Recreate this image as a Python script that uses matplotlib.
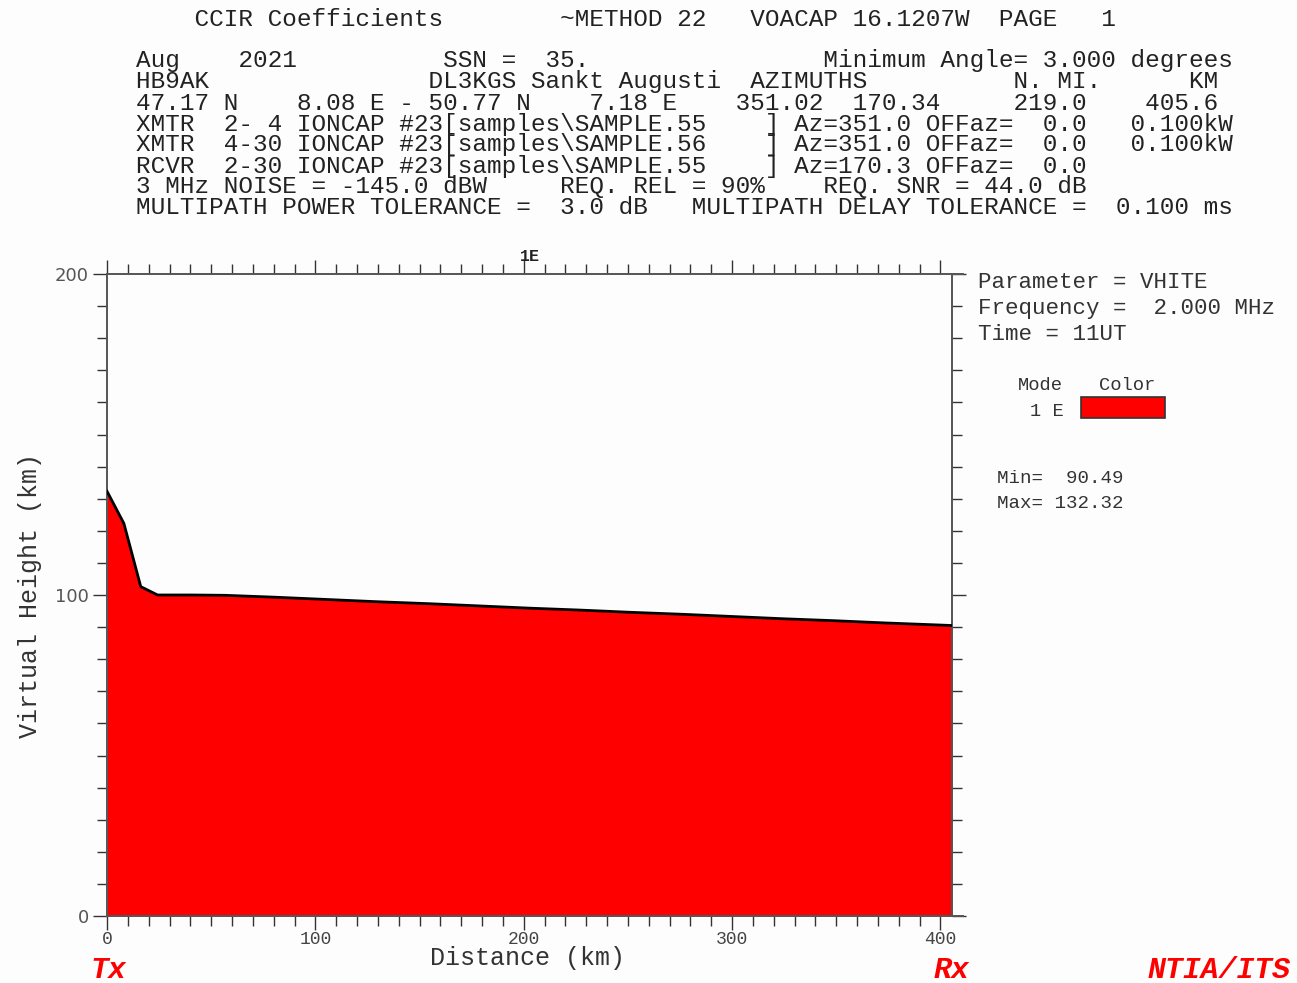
import matplotlib
matplotlib.use("Agg")
import matplotlib.pyplot as plt
from matplotlib.ticker import MultipleLocator

# ---------------- data ----------------
distance_km = [0, 8.1, 16.2, 24.3, 40.6, 56.8, 81.1, 105.5, 129.8, 154.2, 178.5,
               202.8, 227.1, 251.5, 275.8, 300.2, 324.5, 348.8, 373.2, 397.5, 405.6]
virtual_height_km = [132.32, 122.3, 102.6, 100.0, 100.0, 99.9, 99.3, 98.6, 97.9, 97.3,
                     96.6, 95.9, 95.3, 94.6, 94.0, 93.3, 92.6, 92.0, 91.3, 90.7, 90.49]
x_ticks = [0, 100, 200, 300, 400]
y_ticks = [0, 100, 200]
path_length_km = 405.6
mode_label = "1E"

header_lines = [
    "    CCIR Coefficients        ~METHOD 22   VOACAP 16.1207W  PAGE   1",
    "",
    "Aug    2021          SSN =  35.                Minimum Angle= 3.000 degrees",
    "HB9AK               DL3KGS Sankt Augusti  AZIMUTHS          N. MI.      KM",
    "47.17 N    8.08 E - 50.77 N    7.18 E    351.02  170.34     219.0    405.6",
    "XMTR  2- 4 IONCAP #23[samples\\SAMPLE.55    ] Az=351.0 OFFaz=  0.0   0.100kW",
    "XMTR  4-30 IONCAP #23[samples\\SAMPLE.56    ] Az=351.0 OFFaz=  0.0   0.100kW",
    "RCVR  2-30 IONCAP #23[samples\\SAMPLE.55    ] Az=170.3 OFFaz=  0.0",
    "3 MHz NOISE = -145.0 dBW     REQ. REL = 90%    REQ. SNR = 44.0 dB",
    "MULTIPATH POWER TOLERANCE =  3.0 dB   MULTIPATH DELAY TOLERANCE =  0.100 ms",
]
header_y = [19, 39, 61, 82, 103, 124, 145, 166, 187, 208]

# ---------------- figure ----------------
W, H = 1297, 983
fig = plt.figure(figsize=(W / 100, H / 100), dpi=100, facecolor="#fdfdfd")


def fx(x):
    return x / W


def fy(y):
    return 1 - y / H


MONO = "Liberation Mono"
axis_col = "#555555"
txt_col = "#333333"

ax = fig.add_axes([fx(107), fy(916), (952 - 107) / W, (916 - 274) / H])
ax.set_facecolor("#fdfdfd")
ax.fill_between(distance_km, virtual_height_km, 0, color="#ff0000", linewidth=0, zorder=2)
ax.plot(distance_km, virtual_height_km, color="black", linewidth=2.0, zorder=3,
        solid_joinstyle="round")
ax.set_xlim(0, path_length_km)
ax.set_ylim(0, 200)

for s in ax.spines.values():
    s.set_color(axis_col)
    s.set_linewidth(1.4)
ax.spines["top"].set_bounds(0, 411)
ax.spines["bottom"].set_bounds(0, 411)

ax.xaxis.set_minor_locator(MultipleLocator(10))
ax.yaxis.set_minor_locator(MultipleLocator(10))
ax.set_xticks(x_ticks)
ax.set_yticks(y_ticks)
ax.tick_params(axis="both", which="both", direction="out", color="#333333", width=1.0,
               top=True, right=True)
ax.tick_params(axis="both", which="major", length=10)
ax.tick_params(axis="both", which="minor", length=7)
ax.tick_params(axis="x", which="major", pad=1, labelsize=13, labelcolor="#444444")
ax.tick_params(axis="y", which="major", pad=3, labelsize=13, labelcolor="#555555")
for lab in ax.get_xticklabels():
    lab.set_fontfamily(MONO)
for lab in ax.get_yticklabels():
    lab.set_fontfamily("DejaVu Sans")

# mode label on top axis, centred on path midpoint
ax.text(path_length_km / 2, 203.2, mode_label, transform=ax.transData,
        ha="center", va="bottom", fontsize=12, fontweight="bold",
        family=MONO, color="#222222", clip_on=False)

# axis titles
fig.text(fx(527), fy(958), "Distance (km)", ha="center", va="center",
         family=MONO, fontsize=18, color=txt_col)
fig.text(fx(30), fy(596), "Virtual Height (km)", ha="center", va="center",
         rotation=90, family=MONO, fontsize=18, color=txt_col)

# header
for line, y in zip(header_lines, header_y):
    if line:
        fig.text(fx(136), fy(y), line, ha="left", va="center", family=MONO,
                 fontsize=17.55, color="#222222")

# right panel
fig.text(fx(978), fy(282), "Parameter = VHITE", ha="left", va="center",
         family=MONO, fontsize=16.2, color=txt_col)
fig.text(fx(978), fy(308), "Frequency =  2.000 MHz", ha="left", va="center",
         family=MONO, fontsize=16.2, color=txt_col)
fig.text(fx(978), fy(334), "Time = 11UT", ha="left", va="center",
         family=MONO, fontsize=16.2, color=txt_col)
fig.text(fx(1018), fy(386), "Mode", ha="left", va="center",
         family=MONO, fontsize=13.5, color=txt_col)
fig.text(fx(1099), fy(386), "Color", ha="left", va="center",
         family=MONO, fontsize=13.5, color=txt_col)
fig.text(fx(1030), fy(411), "1 E", ha="left", va="center",
         family=MONO, fontsize=13.5, color=txt_col)
fig.patches.append(plt.Rectangle((fx(1081), fy(418)), (1165 - 1081) / W, (418 - 397) / H,
                                 transform=fig.transFigure, facecolor="#ff0000",
                                 edgecolor="#333333", linewidth=1.2))
fig.text(fx(997), fy(478), "Min=  %.2f" % min(virtual_height_km), ha="left", va="center",
         family=MONO, fontsize=13.8, color=txt_col)
fig.text(fx(997), fy(503), "Max= %.2f" % max(virtual_height_km), ha="left", va="center",
         family=MONO, fontsize=13.8, color=txt_col)

# footer
for label, x in [("Tx", 90), ("Rx", 934), ("NTIA/ITS", 1148)]:
    fig.text(fx(x), fy(970), label, ha="left", va="center", family=MONO,
             fontsize=21.5, fontweight="bold", fontstyle="italic", color="#ff0000")

fig.savefig("out.png", dpi=100, facecolor=fig.get_facecolor())
